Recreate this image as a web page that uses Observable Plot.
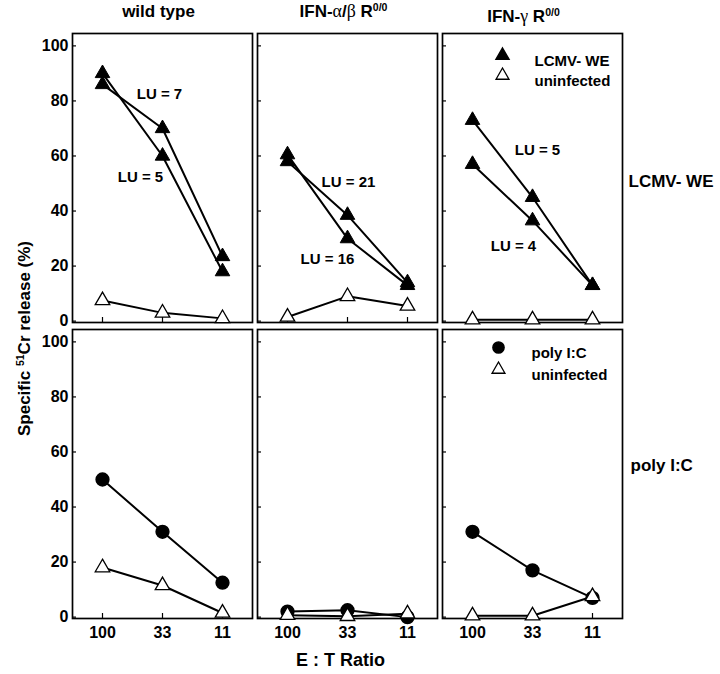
<!DOCTYPE html>
<html><head><meta charset="utf-8">
<script src="https://cdn.jsdelivr.net/npm/d3@7"></script>
<script src="https://cdn.jsdelivr.net/npm/@observablehq/plot@0.6"></script>
<style>body{margin:0;background:#fff}</style>
</head><body><div id="chart"></div>
<script>
// ---- data ----
const ratios = ["100", "33", "11"];
const genotypes = ["wild type", "IFN-α/β R{0/0}", "IFN-γ R{0/0}"];
const targets = ["LCMV- WE", "poly I:C"];
const yTicks = [0, 20, 40, 60, 80, 100];
// LCMV-WE infected targets, two experiments per genotype (values at E:T 100, 33, 11)
const lcmvExpA = [[86, 70, 23.5], [58, 38.5, 14], [73, 45, 13]];
const lcmvExpB = [[90, 60, 18], [60.5, 30, 13], [57, 36.5, 13]];
const lcmvUninfected = [[7.5, 3, 1], [1.5, 9, 5.5], [0.5, 0.5, 0.5]];
// poly I:C treated targets
const polyIC = [[50, 31, 12.5], [2, 2.5, 0], [31, 17, 7]];
const polyUninfected = [[18, 11.5, 1.5], [0.7, 0.3, 1.2], [0.5, 0.5, 7.5]];
const luLabelsA = ["LU = 7", "LU = 21", "LU = 5"];
const luLabelsB = ["LU = 5", "LU = 16", "LU = 4"];
const legendTop = ["LCMV- WE", "uninfected"];
const legendBottom = ["poly I:C", "uninfected"];

// ---- table ----
const rows = [];
function add(series, kind, target, arr) {
  genotypes.forEach((g, gi) => ratios.forEach((r, ri) =>
    rows.push({genotype: g, target, ratio: r, value: arr[gi][ri], series: series + "|" + g, kind})));
}
add("lcmvA", "lcmv", targets[0], lcmvExpA);
add("lcmvB", "lcmv", targets[0], lcmvExpB);
add("lcmvU", "uninf", targets[0], lcmvUninfected);
add("poly", "poly", targets[1], polyIC);
add("polyU", "uninf", targets[1], polyUninfected);

const FONT = "Liberation Sans, Arial, Helvetica, sans-serif";
const fxC = v => () => v;

const luA = genotypes.map((g, i) => ({genotype: g, text: luLabelsA[i]}));
const luB = genotypes.map((g, i) => ({genotype: g, text: luLabelsB[i]}));
const luPosA = [{y: 82.6, dx: -3}, {y: 50.5, dx: 1}, {y: 62.2, dx: 5}];
const luPosB = [{y: 52.3, dx: -22}, {y: 22.4, dx: -20}, {y: 27.1, dx: -19}];
const titleOff = [{dx: -4, dy: -17}, {dx: -4, dy: -17}, {dx: -9, dy: -12}];

const marks = [
  Plot.frame({stroke: "black", strokeWidth: 1.7}),
  Plot.tickY(yTicks, {y: d => d, insetRight: 176, stroke: "black", strokeWidth: 1.2}),
  Plot.tickX(ratios, {x: d => d, insetTop: 284, stroke: "black", strokeWidth: 1.2}),
  Plot.line(rows, {x: "ratio", y: "value", z: "series", fx: "genotype", fy: "target", stroke: "black", strokeWidth: 2}),
  Plot.dot(rows.filter(d => d.kind === "poly"), {x: "ratio", y: "value", fx: "genotype", fy: "target", r: 6.4, fill: "black", stroke: "black"}),
  Plot.dot(rows.filter(d => d.kind === "lcmv"), {x: "ratio", y: "value", fx: "genotype", fy: "target", symbol: "triangle", r: 5.4, fill: "black", stroke: "black", strokeWidth: 1}),
  Plot.dot(rows.filter(d => d.kind === "uninf"), {x: "ratio", y: "value", fx: "genotype", fy: "target", symbol: "triangle", r: 5.4, fill: "white", stroke: "black", strokeWidth: 1.3}),
];
// LU annotations and column titles
genotypes.forEach((g, i) => {
  marks.push(Plot.text([luA[i]], {fx: "genotype", fy: fxC(targets[0]), x: fxC("33"), y: fxC(luPosA[i].y), dx: luPosA[i].dx, text: "text", fontSize: 15, fontWeight: "bold", fill: "black"}));
  marks.push(Plot.text([luB[i]], {fx: "genotype", fy: fxC(targets[0]), x: fxC("33"), y: fxC(luPosB[i].y), dx: luPosB[i].dx, text: "text", fontSize: 15, fontWeight: "bold", fill: "black"}));
  marks.push(Plot.text([g], {fx: d => d, fy: fxC(targets[0]), text: d => d, frameAnchor: "top", lineAnchor: "bottom", dx: titleOff[i].dx, dy: titleOff[i].dy, fontSize: 17, fontWeight: "bold", fill: "black"}));
});
// row labels
marks.push(Plot.text([targets[0]], {fy: d => d, fx: fxC(genotypes[2]), text: d => d, frameAnchor: "right", textAnchor: "start", dx: 6, dy: 4, fontSize: 17, fontWeight: "bold", fill: "black"}));
marks.push(Plot.text([targets[1]], {fy: d => d, fx: fxC(genotypes[2]), text: d => d, frameAnchor: "right", textAnchor: "start", dx: 8, dy: -8, fontSize: 17, fontWeight: "bold", fill: "black"}));
// legends
const g2 = fxC(genotypes[2]);
marks.push(Plot.dot([legendTop[0]], {fx: g2, fy: fxC(targets[0]), frameAnchor: "top-left", dx: 60, dy: 22, symbol: "triangle", r: 4.8, fill: "black", stroke: "black"}));
marks.push(Plot.dot([legendTop[1]], {fx: g2, fy: fxC(targets[0]), frameAnchor: "top-left", dx: 60, dy: 42, symbol: "triangle", r: 4.8, fill: "white", stroke: "black", strokeWidth: 1.3}));
legendTop.forEach((t, k) => marks.push(Plot.text([t], {fx: g2, fy: fxC(targets[0]), text: d => d, frameAnchor: "top-left", textAnchor: "start", dx: 92, dy: 22 + 20 * k, fontSize: 15, fontWeight: "bold", fill: "black"})));
marks.push(Plot.dot([legendBottom[0]], {fx: g2, fy: fxC(targets[1]), frameAnchor: "top-left", dx: 56, dy: 18, r: 5.6, fill: "black", stroke: "black"}));
marks.push(Plot.dot([legendBottom[1]], {fx: g2, fy: fxC(targets[1]), frameAnchor: "top-left", dx: 56, dy: 40, symbol: "triangle", r: 4.8, fill: "white", stroke: "black", strokeWidth: 1.3}));
legendBottom.forEach((t, k) => marks.push(Plot.text([t], {fx: g2, fy: fxC(targets[1]), text: d => d, frameAnchor: "top-left", textAnchor: "start", dx: 89, dy: 18 + 22 * k, fontSize: 15, fontWeight: "bold", fill: "black"})));
// axis titles
marks.push(Plot.text(["Specific {51}Cr release (%)"], {fx: fxC(genotypes[0]), fy: fxC(targets[0]), text: d => d, frameAnchor: "bottom-left", rotate: -90, lineAnchor: "bottom", textAnchor: "middle", dx: -43, dy: 16, fontSize: 17, fontWeight: "bold", fill: "black"}));
marks.push(Plot.text(["E : T Ratio"], {fx: fxC(genotypes[1]), fy: fxC(targets[1]), text: d => d, frameAnchor: "bottom", lineAnchor: "bottom", dx: -7, dy: 47, fontSize: 18, fontWeight: "bold", fill: "black"}));

const svg = Plot.plot({
  width: 720,
  height: 674,
  marginLeft: 72,
  marginRight: 98,
  marginTop: 33,
  marginBottom: 56,
  style: {fontFamily: FONT, fontSize: "16px", fontWeight: "bold", color: "black", background: "white"},
  x: {type: "point", domain: ratios, padding: 0.5, tickSize: 0, tickPadding: 8, label: null},
  y: {domain: [-0.5, 104.5], ticks: yTicks, tickSize: 0, tickPadding: 4, label: null},
  fx: {domain: genotypes, paddingInner: 5 / 185, paddingOuter: 0, axis: null},
  fy: {domain: targets, paddingInner: 7 / 296, paddingOuter: 0, axis: null},
  marks
});

// superscripts and Greek glyphs
d3.select(svg).selectAll("text").each(function () {
  const t = this.textContent;
  if (!/[{αβγ]/.test(t)) return;
  const sel = d3.select(this);
  const parts = t.split(/\{([^}]*)\}/);
  while (this.firstChild) this.removeChild(this.firstChild);
  let pendingDy = null;
  parts.forEach((p, i) => {
    if (!p) return;
    if (i % 2 === 1) {
      sel.append("tspan").attr("dy", "-6").attr("font-size", "0.62em").text(p);
      pendingDy = "6";
    } else {
      p.split(/([αβγ])/).forEach((q, j) => {
        if (!q) return;
        const ts = sel.append("tspan").text(q);
        if (pendingDy) { ts.attr("dy", pendingDy); pendingDy = null; }
        if (j % 2 === 1) ts.attr("font-family", "Liberation Serif, serif").attr("font-weight", "normal").attr("font-size", "1.05em");
      });
    }
  });
});
document.getElementById("chart").appendChild(svg);
</script></body></html>
